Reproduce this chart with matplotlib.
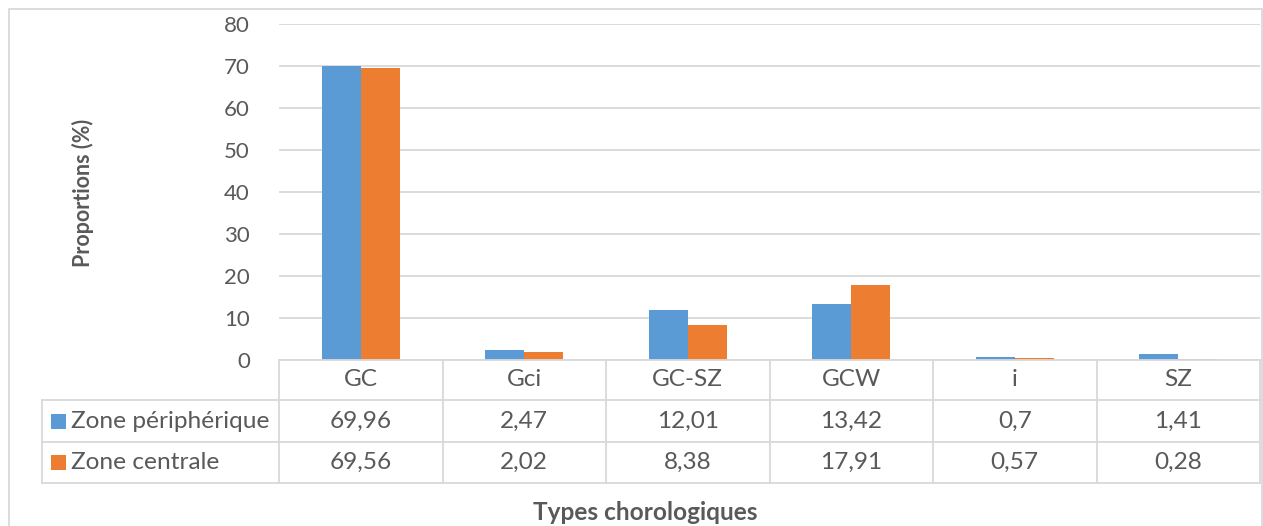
import matplotlib
matplotlib.use("Agg")
import matplotlib.pyplot as plt
from matplotlib.transforms import blended_transform_factory
from matplotlib.patches import Rectangle
from matplotlib.lines import Line2D

categories = ["GC", "Gci", "GC-SZ", "GCW", "i", "SZ"]
series_names = ["Zone périphérique", "Zone centrale"]
peripherique = [69.96, 2.47, 12.01, 13.42, 0.7, 1.41]
centrale = [69.56, 2.02, 8.38, 17.91, 0.57, 0.28]
value_labels_peri = ["69,96", "2,47", "12,01", "13,42", "0,7", "1,41"]
value_labels_cent = ["69,56", "2,02", "8,38", "17,91", "0,57", "0,28"]
yticks = [0, 10, 20, 30, 40, 50, 60, 70, 80]

BLUE = "#5B9BD5"
ORANGE = "#ED7D31"
TEXT = "#595959"
GRID = "#D9D9D9"
FONT = "Lato"

W, H = 1263, 526
fig = plt.figure(figsize=(W / 100, H / 100), dpi=100)

def fx(px):
    return px / W

def fy(py):
    return 1 - py / H

# outer chart border
fig.add_artist(Rectangle((fx(9), fy(540)), fx(1262) - fx(9), fy(8.5) - fy(540),
                         transform=fig.transFigure, fill=False,
                         edgecolor=GRID, linewidth=1.3))

left, right, top, bottom = 279, 1260, 24, 360
ax = fig.add_axes([fx(left), fy(bottom), fx(right) - fx(left), fy(top) - fy(bottom)])

x = list(range(len(categories)))
bw = 0.24
ax.bar([i - bw / 2 for i in x], peripherique, width=bw, color=BLUE, zorder=3)
ax.bar([i + bw / 2 for i in x], centrale, width=bw, color=ORANGE, zorder=3)

ax.set_xlim(-0.5, len(categories) - 0.5)
ax.set_ylim(0, 80)
ax.set_yticks(yticks)
ax.set_yticklabels([str(v) for v in yticks], fontsize=16, color=TEXT, family=FONT)
ax.tick_params(axis="y", length=0, pad=21)
ax.set_xticks([])
ax.grid(axis="y", color=GRID, linewidth=1.3, zorder=0)
for s in ax.spines.values():
    s.set_visible(False)

# data table
tr = blended_transform_factory(ax.transData, fig.transFigure)
ftr = fig.transFigure
row_y = [360, 400, 442, 483]
lw = 1.3

def hline(x0, x1, y):
    fig.add_artist(Line2D([fx(x0), fx(x1)], [fy(y), fy(y)], transform=ftr,
                          color=GRID, linewidth=lw))

def vline(xp, y0, y1):
    fig.add_artist(Line2D([fx(xp), fx(xp)], [fy(y0), fy(y1)], transform=ftr,
                          color=GRID, linewidth=lw))

hline(left, right, row_y[0])
for yy in row_y[1:]:
    hline(42, right, yy)
vline(42, row_y[1], row_y[3])
for k in range(len(categories) + 1):
    xb = -0.5 + k
    fig.add_artist(Line2D([xb, xb], [fy(row_y[0]), fy(row_y[3])], transform=tr,
                          color=GRID, linewidth=lw, clip_on=False))

fs = 17.6
for i, c in enumerate(categories):
    fig.text(i, (fy(row_y[0]) + fy(row_y[1])) / 2, c, transform=tr, ha="center",
             va="center", fontsize=fs, color=TEXT, family=FONT)
    fig.text(i, (fy(row_y[1]) + fy(row_y[2])) / 2, value_labels_peri[i], transform=tr,
             ha="center", va="center", fontsize=fs, color=TEXT, family=FONT)
    fig.text(i, (fy(row_y[2]) + fy(row_y[3])) / 2, value_labels_cent[i], transform=tr,
             ha="center", va="center", fontsize=fs, color=TEXT, family=FONT)

for r, (name, col) in enumerate(zip(series_names, [BLUE, ORANGE])):
    y0, y1 = row_y[1 + r], row_y[2 + r]
    ym = (y0 + y1) / 2
    fig.add_artist(Rectangle((fx(51), fy(ym + 7.5)), fx(66) - fx(51), fy(ym - 7.5) - fy(ym + 7.5),
                             transform=ftr, color=col, linewidth=0))
    fig.text(fx(71), fy(ym), name, ha="left", va="center", fontsize=fs, color=TEXT,
             family=FONT)

fig.text(fx(645), fy(513), "Types chorologiques", ha="center",
         va="center", fontsize=17.6, fontweight="bold", color=TEXT, family=FONT)

fig.text(fx(83), fy(193), "Proportions (%)", rotation=90, ha="center", va="center",
         fontsize=15.5, fontweight="bold", color=TEXT, family=FONT)

fig.savefig("out.png", dpi=100)
